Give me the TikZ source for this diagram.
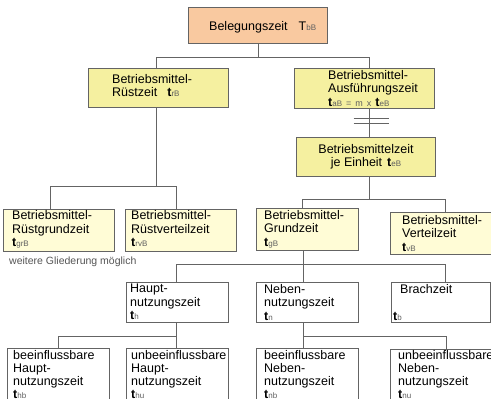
\documentclass[tikz,border=0pt]{standalone}
\usepackage{fontspec}
\setmainfont{Liberation Sans}
\usetikzlibrary{calc}

\definecolor{belorange}{RGB}{249,201,160}
\definecolor{bmyellow}{RGB}{245,240,160}
\definecolor{paleyellow}{RGB}{255,252,214}
\definecolor{framegray}{RGB}{100,100,100}
\definecolor{subgray}{RGB}{95,95,95}
\definecolor{notegray}{RGB}{85,85,85}

% bold time symbol t with a small grey index
\newcommand{\tsym}[1]{\textbf{t}{\fontsize{8}{8}\selectfont\color{subgray}#1}}
\newcommand{\idx}[1]{{\fontsize{8}{8}\selectfont\color{subgray}#1}}

\begin{document}
\begin{tikzpicture}[x=1pt,y=-1pt,
  box/.style={draw=framegray, line width=1pt, anchor=north west, inner sep=0pt},
  txt/.style={anchor=north west, inner sep=0pt, align=left,
              font=\fontsize{12.5}{13.5}\selectfont},
  txtlow/.style={txt, font=\fontsize{12.5}{13}\selectfont},
  link/.style={draw=framegray, line width=0.9pt}]

\useasboundingbox (0,0) rectangle (491,399);
\fill[white] (0,0) rectangle (491,399);

% ---- level 1
\node[box, fill=belorange, minimum width=139pt, minimum height=36pt] (bel) at (188,7) {};
\node[txt, anchor=base west] (belt) at (209,30) {Belegungszeit\hspace{11pt}T\idx{bB}};

% ---- level 2
\node[box, fill=bmyellow, minimum width=140pt, minimum height=39pt] (ruest) at (88,68) {};
\node[txt] (ruestt) at (112,74) {Betriebsmittel-\\Rüstzeit\hspace{10pt}\tsym{rB}};

\node[box, fill=bmyellow, minimum width=140pt, minimum height=40pt] (ausf) at (294,68) {};
\node[txt] (ausft) at (328,70) {Betriebsmittel-\\Ausführungszeit\\\tsym{aB}\hspace{4pt}{\fontsize{9}{9}\selectfont\color{subgray}=\hspace{4pt}m\hspace{4pt}x}\hspace{4pt}\tsym{eB}};

\node[box, fill=bmyellow, minimum width=139pt, minimum height=39pt] (bmz) at (296,137) {};
\node[txt, anchor=center, align=center] (bmzt) at (bmz.center) {Betriebsmittelzeit\\je Einheit\hspace{5pt}\tsym{eB}};

% ---- level 3
\node[box, fill=paleyellow, minimum width=111pt, minimum height=42pt] (rgz) at (3,209) {};
\node[txt] (rgzt) at (12,210.5) {Betriebsmittel-\\Rüstgrundzeit\\\tsym{grB}};

\node[box, fill=paleyellow, minimum width=111pt, minimum height=42pt] (rvz) at (125,209) {};
\node[txt] (rvzt) at (131,210.5) {Betriebsmittel-\\Rüstverteilzeit\\\tsym{rvB}};

\node[box, fill=paleyellow, minimum width=102pt, minimum height=42pt] (gz) at (256,208) {};
\node[txt] (gzt) at (264,210) {Betriebsmittel-\\Grundzeit\\\tsym{gB}};

\node[box, fill=paleyellow, minimum width=105pt, minimum height=42pt] (vz) at (390,212) {};
\node[txt] (vzt) at (402,215) {Betriebsmittel-\\Verteilzeit\\\tsym{vB}};

\node[anchor=base west, inner sep=0pt, font=\fontsize{10.5}{12}\selectfont, text=notegray]
  (note) at (9,264) {weitere Gliederung möglich};

% ---- level 4
\node[box, fill=white, minimum width=102pt, minimum height=40pt] (hn) at (126,282) {};
\node[txt] (hnt) at (130,284) {Haupt-\\nutzungszeit\\\tsym{h}};

\node[box, fill=white, minimum width=102pt, minimum height=40pt] (nn) at (256,282) {};
\node[txt] (nnt) at (264,284) {Neben-\\nutzungszeit\\\tsym{n}};

\node[box, fill=white, minimum width=99pt, minimum height=40pt] (bz) at (391,282) {};
\node[txt] (bzt) at (400,284) {Brachzeit};
\node[txt, anchor=base west] (bztb) at (393,320) {\tsym{b}};

% ---- level 5 (boxes run past the lower edge)
\node[box, fill=white, minimum width=102pt, minimum height=70pt] (hb) at (7,348) {};
\node[txtlow] (hbt) at (13,350.5) {beeinflussbare\\Haupt-\\nutzungszeit\\\tsym{hb}};

\node[box, fill=white, minimum width=102pt, minimum height=70pt] (hu) at (126,348) {};
\node[txtlow] (hut) at (131,350.5) {unbeeinflussbare\\Haupt-\\nutzungszeit\\\tsym{hu}};

\node[box, fill=white, minimum width=102pt, minimum height=70pt] (nb) at (256,348) {};
\node[txtlow] (nbt) at (264,350.5) {beeinflussbare\\Neben-\\nutzungszeit\\\tsym{nb}};

\node[box, fill=white, minimum width=110pt, minimum height=70pt] (nu) at (390,349) {};
\node[txtlow] (nut) at (398,350.5) {unbeeinflussbare\\Neben-\\nutzungszeit\\\tsym{nu}};

% ---- connectors
\coordinate (jbel) at ($(bel.south)+(0,13)$);
\draw[link] (bel.south) -- (jbel);
\draw[link] (jbel) -| ([xshift=-2pt]ruest.north);
\draw[link] (jbel) -| ([xshift=5pt]ausf.north);

\coordinate (jr) at ($([xshift=-2pt]ruest.south)+(0,78)$);
\draw[link] ([xshift=-2pt]ruest.south) -- (jr);
\draw[link] (jr) -| ([xshift=-8.5pt]rgz.north);
\draw[link] (jr) -| ([xshift=-4.5pt]rvz.north);

\coordinate (ja) at ([xshift=5pt]ausf.south);
\draw[link] (ja) -- (ja |- bmz.north);
\draw[link] ([xshift=-16pt,yshift=-9pt]ja) -- ++(35,0);
\draw[link] ([xshift=-16pt,yshift=-14pt]ja) -- ++(35,0);

\coordinate (jb) at ($([xshift=3.5pt]bmz.south)+(0,22)$);
\draw[link] ([xshift=3.5pt]bmz.south) -- (jb);
\draw[link] (jb) -| ([xshift=-5pt]gz.north);
\draw[link] (jb) -| ([xshift=2.5pt]vz.north);

\coordinate (jg) at ($([xshift=-4pt]gz.south)+(0,13)$);
\draw[link] ([xshift=-4pt]gz.south) -- (jg);
\draw[link] (jg) -| ([xshift=-1pt]hn.north);
\draw[link] (jg) -- ([xshift=-4pt]nn.north);
\draw[link] (jg) -| ([xshift=4.5pt]bz.north);

\coordinate (jh) at ($([xshift=-1pt]hn.south)+(0,13)$);
\draw[link] ([xshift=-1pt]hn.south) -- (jh);
\draw[link] (jh) -| (hb.north);
\draw[link] (jh) -- ([xshift=-1pt]hu.north);

\coordinate (jn) at ($([xshift=-4pt]nn.south)+(0,13)$);
\draw[link] ([xshift=-4pt]nn.south) -- (jn);
\draw[link] (jn) -- ([xshift=-4pt]nb.north);
\draw[link] (jn) -| ([xshift=1pt]nu.north);
\end{tikzpicture}
\end{document}
